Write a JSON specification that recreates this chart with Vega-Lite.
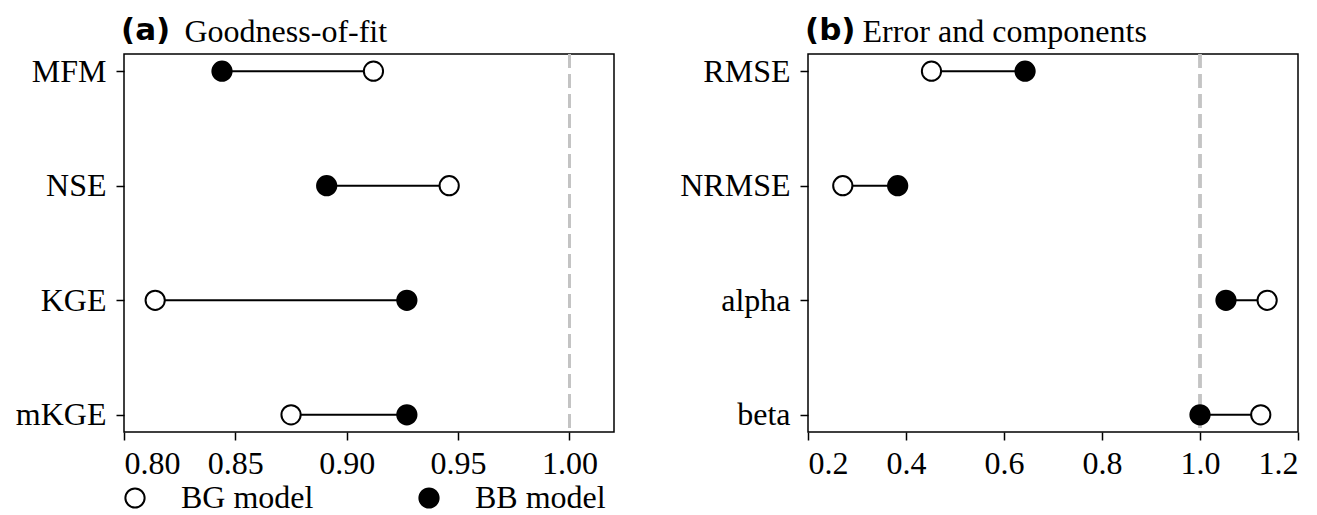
{
  "$schema": "https://vega.github.io/schema/vega-lite/v6.json",
  "padding": {"left": 14, "top": 14, "right": 0, "bottom": 0},
  "background": "white",
  "datasets": {
    "a": [
      {"metric": "MFM", "model": "BG model", "value": 0.912},
      {"metric": "MFM", "model": "BB model", "value": 0.844},
      {"metric": "NSE", "model": "BG model", "value": 0.946},
      {"metric": "NSE", "model": "BB model", "value": 0.891},
      {"metric": "KGE", "model": "BG model", "value": 0.814},
      {"metric": "KGE", "model": "BB model", "value": 0.927},
      {"metric": "mKGE", "model": "BG model", "value": 0.875},
      {"metric": "mKGE", "model": "BB model", "value": 0.927}
    ],
    "b": [
      {"metric": "RMSE", "model": "BG model", "value": 0.452},
      {"metric": "RMSE", "model": "BB model", "value": 0.643},
      {"metric": "NRMSE", "model": "BG model", "value": 0.271},
      {"metric": "NRMSE", "model": "BB model", "value": 0.383},
      {"metric": "alpha", "model": "BG model", "value": 1.137},
      {"metric": "alpha", "model": "BB model", "value": 1.053},
      {"metric": "beta", "model": "BG model", "value": 1.124},
      {"metric": "beta", "model": "BB model", "value": 1.0}
    ]
  },
  "config": {
    "view": {"stroke": "black", "strokeWidth": 1.5},
    "font": "Liberation Serif",
    "axis": {
      "labelFont": "Liberation Serif",
      "labelFontSize": 32,
      "labelColor": "black",
      "tickColor": "black",
      "tickSize": 8,
      "tickWidth": 1.5,
      "domain": false,
      "grid": false
    },
    "legend": {"labelFont": "Liberation Serif", "labelFontSize": 32, "labelLimit": 300},
    "title": {"color": "black"}
  },
  "spacing": 194,
  "bounds": "flush",
  "resolve": {"scale": {"fill": "independent"}, "legend": {"fill": "independent"}},
  "hconcat": [
    {
      "width": 490,
      "height": 378,
      "data": {"name": "a"},
      "title": {"text": "(a)", "anchor": "start", "frame": "group", "font": "DejaVu Sans", "fontWeight": "bold", "fontSize": 31, "baseline": "alphabetic", "dx": -3, "offset": -56},
      "layer": [
        {
          "mark": {"type": "rule", "stroke": "#c4c4c4", "strokeWidth": 2.5, "strokeDash": [14, 6]},
          "encoding": {"x": {"datum": 1.0, "type": "quantitative"}}
        },
        {
          "mark": {"type": "rule", "stroke": "black", "strokeWidth": 2},
          "encoding": {
            "y": {"field": "metric", "type": "nominal", "sort": ["MFM", "NSE", "KGE", "mKGE"]},
            "x": {"aggregate": "min", "field": "value", "type": "quantitative"},
            "x2": {"aggregate": "max", "field": "value"}
          }
        },
        {
          "mark": {"type": "point", "shape": "circle", "filled": true, "stroke": "black", "strokeWidth": 2, "size": 370, "opacity": 1},
          "encoding": {
            "y": {
              "field": "metric", "type": "nominal", "sort": ["MFM", "NSE", "KGE", "mKGE"],
              "scale": {"type": "point", "padding": 0.15},
              "axis": {"title": "Goodness-of-fit", "titleAngle": 0, "titleAlign": "left", "titleBaseline": "alphabetic", "titleX": 60, "titleY": -13, "titleFont": "Liberation Serif", "titleFontSize": 32, "titleFontWeight": "normal", "titleColor": "black", "labelFont": "Liberation Serif", "labelFontSize": 32, "labelPadding": 10}
            },
            "x": {
              "field": "value", "type": "quantitative",
              "scale": {"domain": [0.8, 1.02], "nice": false, "zero": false},
              "axis": {"title": null, "values": [0.8, 0.85, 0.9, 0.95, 1.0], "format": ".2f", "labelFont": "Liberation Serif", "labelFontSize": 32, "labelPadding": 8}
            },
            "fill": {
              "field": "model", "type": "nominal",
              "scale": {"domain": ["BG model", "BB model"], "range": ["white", "black"]},
              "legend": {
                "title": null, "orient": "none", "legendX": -5, "legendY": 428, "direction": "horizontal",
                "symbolType": "circle", "symbolSize": 370, "symbolStrokeColor": "black", "symbolStrokeWidth": 2,
                "labelFont": "Liberation Serif", "labelFontSize": 32, "labelColor": "black", "labelOffset": 30,
                "columnPadding": 99, "padding": 0
              }
            }
          }
        }
      ]
    },
    {
      "width": 490,
      "height": 378,
      "data": {"name": "b"},
      "title": {"text": "(b)", "anchor": "start", "frame": "group", "font": "DejaVu Sans", "fontWeight": "bold", "fontSize": 31, "baseline": "alphabetic", "dx": -3, "offset": -56},
      "layer": [
        {
          "mark": {"type": "rule", "stroke": "#c4c4c4", "strokeWidth": 2.5, "strokeDash": [14, 6]},
          "encoding": {"x": {"datum": 1.0, "type": "quantitative"}}
        },
        {
          "mark": {"type": "rule", "stroke": "black", "strokeWidth": 2},
          "encoding": {
            "y": {"field": "metric", "type": "nominal", "sort": ["RMSE", "NRMSE", "alpha", "beta"]},
            "x": {"aggregate": "min", "field": "value", "type": "quantitative"},
            "x2": {"aggregate": "max", "field": "value"}
          }
        },
        {
          "mark": {"type": "point", "shape": "circle", "filled": true, "stroke": "black", "strokeWidth": 2, "size": 370, "opacity": 1},
          "encoding": {
            "y": {
              "field": "metric", "type": "nominal", "sort": ["RMSE", "NRMSE", "alpha", "beta"],
              "scale": {"type": "point", "padding": 0.15},
              "axis": {"title": "Error and components", "titleAngle": 0, "titleAlign": "left", "titleBaseline": "alphabetic", "titleX": 54, "titleY": -13, "titleFont": "Liberation Serif", "titleFontSize": 32, "titleFontWeight": "normal", "titleColor": "black", "labelFont": "Liberation Serif", "labelFontSize": 32, "labelPadding": 10}
            },
            "x": {
              "field": "value", "type": "quantitative",
              "scale": {"domain": [0.2, 1.2], "nice": false, "zero": false},
              "axis": {"title": null, "values": [0.2, 0.4, 0.6, 0.8, 1.0, 1.2], "format": ".1f", "labelFont": "Liberation Serif", "labelFontSize": 32, "labelPadding": 8}
            },
            "fill": {
              "field": "model", "type": "nominal",
              "scale": {"domain": ["BG model", "BB model"], "range": ["white", "black"]},
              "legend": null
            }
          }
        }
      ]
    }
  ]
}
